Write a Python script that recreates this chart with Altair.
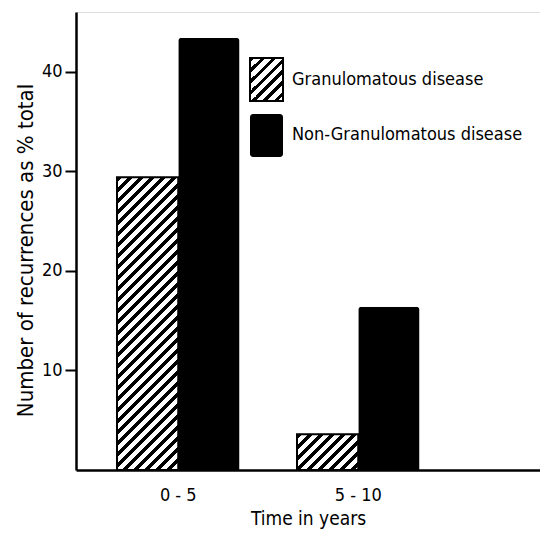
import altair as alt
import pandas as pd

# ---- data ----
periods = ["0 - 5", "5 - 10"]
series = ["Granulomatous disease", "Non-Granulomatous disease"]
granulomatous = [29.4, 3.6]
non_granulomatous = [43.4, 16.4]
y_ticks = [10, 20, 30, 40]

rows = []
for p, g, n in zip(periods, granulomatous, non_granulomatous):
    rows.append({"period": p, "series": series[0], "value": g})
    rows.append({"period": p, "series": series[1], "value": n})
df = pd.DataFrame(rows)

# ---- layout / style ----
FONT = "DejaVu Sans Condensed, Liberation Sans Narrow, DejaVu Sans, sans-serif"
W, H = 464, 458
Y_MAX = 46
PX_PER_UNIT = H / Y_MAX
STEP = 180.0
BAND = 122.5
PAD_INNER = 1 - BAND / STEP
PAD_OUTER = (W / STEP - 2 + PAD_INNER) / 2
ALIGN = 41.0 / (W - STEP * (2 - PAD_INNER))
BAR_W = BAND / 2


def hatch(w, h, period=11.0, dark=0.45):
    """Diagonal '/' stripes as a hard-stop linear gradient over a w x h box."""
    a = (w + h) / (w * w + h * h)
    span = w + h
    stops = []
    k = 0
    while k * period < span:
        s = k * period / span
        m = min(1.0, (k * period + dark * period) / span)
        e = min(1.0, (k + 1) * period / span)
        stops += [
            {"offset": s, "color": "black"},
            {"offset": m, "color": "black"},
            {"offset": m, "color": "white"},
            {"offset": e, "color": "white"},
        ]
        k += 1
    return {"gradient": "linear", "x1": 0, "y1": 0, "x2": a * w, "y2": a * h,
            "stops": stops}


x_enc = alt.X("period:N", sort=periods,
              scale=alt.Scale(domain=periods, paddingInner=PAD_INNER,
                              paddingOuter=PAD_OUTER, align=ALIGN),
              axis=alt.Axis(title="Time in years", labelAngle=0, ticks=False,
                            domainWidth=2.5, domainColor="black",
                            labelFont=FONT, labelFontSize=18, labelColor="black",
                            labelPadding=16, titleFont=FONT, titleFontSize=19,
                            titleFontWeight="normal", titleColor="black",
                            titlePadding=5))
xo_enc = alt.XOffset("series:N", sort=series,
                     scale=alt.Scale(domain=series, paddingInner=0, paddingOuter=0))
y_enc = alt.Y("value:Q",
              scale=alt.Scale(domain=[0, Y_MAX], nice=False, zero=True),
              axis=alt.Axis(title="Number of recurrences as % total",
                            values=y_ticks, grid=False, tickSize=11, tickWidth=2,
                            tickColor="black", domainWidth=2.5, domainColor="black",
                            labelFont=FONT, labelFontSize=18, labelColor="black",
                            labelPadding=3, titleFont=FONT, titleFontSize=22,
                            titleFontWeight="normal", titleColor="black",
                            titlePadding=4, titleY=238))

base = alt.Chart(df).encode(x=x_enc, xOffset=xo_enc, y=y_enc)

black_bars = base.transform_filter(
    alt.datum.series == series[1]
).mark_bar(color="black", cornerRadiusTopLeft=3, cornerRadiusTopRight=3)

hatched_layers = []
for p, g in zip(periods, granulomatous):
    hatched_layers.append(
        base.transform_filter(
            (alt.datum.series == series[0]) & (alt.datum.period == p)
        ).mark_bar(fill=hatch(BAR_W, g * PX_PER_UNIT), stroke="black",
                   strokeWidth=2)
    )

# ---- legend (drawn in the plot's upper right) ----
LX, LY1, LY2, SW, SH = 174, 46, 102, 33, 43
leg_hatch = alt.Chart(pd.DataFrame({"label": [series[0]]})).mark_rect(
    fill=hatch(SW, SH), stroke="black", strokeWidth=2
).encode(x=alt.value(LX), x2=alt.value(LX + SW), y=alt.value(LY1),
         y2=alt.value(LY1 + SH))
leg_black = alt.Chart(pd.DataFrame({"label": [series[1]]})).mark_rect(
    fill="black", cornerRadius=3
).encode(x=alt.value(LX), x2=alt.value(LX + SW), y=alt.value(LY2),
         y2=alt.value(LY2 + SH))
leg_text1 = alt.Chart(pd.DataFrame({"label": [series[0]]})).mark_text(
    align="left", baseline="middle", font=FONT, fontSize=18, color="black"
).encode(x=alt.value(LX + 42), y=alt.value(LY1 + SH / 2), text="label:N")
leg_text2 = alt.Chart(pd.DataFrame({"label": [series[1]]})).mark_text(
    align="left", baseline="middle", font=FONT, fontSize=18, color="black"
).encode(x=alt.value(LX + 42), y=alt.value(LY2 + SH / 2 - 1), text="label:N")

chart = alt.layer(
    black_bars, *hatched_layers, leg_hatch, leg_black, leg_text1, leg_text2
).properties(
    width=W, height=H,
    autosize=alt.AutoSizeParams(type="none"),
    padding={"left": 68, "top": 4, "right": 0, "bottom": 60},
).configure_view(stroke=None).configure(background="white")

chart.save("out.html", embed_options={"renderer": "svg", "actions": False})
